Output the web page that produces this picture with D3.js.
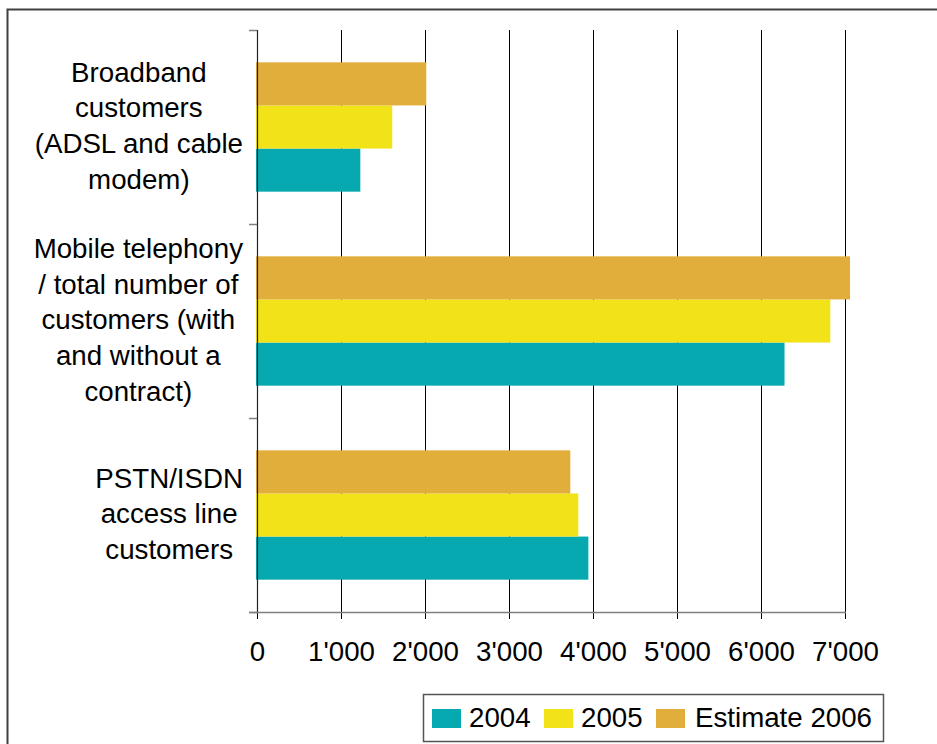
<!DOCTYPE html>
<html>
<head>
<meta charset="utf-8">
<script src="https://cdn.jsdelivr.net/npm/d3@7"></script>
<style>
  html, body { margin: 0; padding: 0; background: #fff; }
  svg { display: block; font-family: "Liberation Sans", Arial, sans-serif; }
</style>
</head>
<body>
<svg id="chart" width="937" height="744"></svg>
<script>
// Customer numbers (thousands) per service and year
const categories = [
  "Broadband customers (ADSL and cable modem)",
  "Mobile telephony / total number of customers (with and without a contract)",
  "PSTN/ISDN access line customers"
];
const categoryLines = [
  ["Broadband", "customers", "(ADSL and cable", "modem)"],
  ["Mobile telephony", "/ total number of", "customers (with", "and without a", "contract)"],
  ["PSTN/ISDN", "access line", "customers"]
];
const seriesNames = ["2004", "2005", "Estimate 2006"];
const values2004 = [1230, 6280, 3945];
const values2005 = [1610, 6825, 3825];
const values2006 = [2015, 7060, 3730];
const seriesColors = ["#07A9B1", "#F2E319", "#E1AE3B"];
const tickValues = [0, 1000, 2000, 3000, 4000, 5000, 6000, 7000];

const seriesValues = [values2004, values2005, values2006];

const svg = d3.select("#chart");
const FONT = 27.7;

// Outer frame
svg.append("rect")
  .attr("x", 7.5).attr("y", 9.5)
  .attr("width", 1000).attr("height", 1000)
  .attr("fill", "none").attr("stroke", "#404040").attr("stroke-width", 2);

const plot = { left: 257, right: 845, top: 30, bottom: 612 };

const x = d3.scaleLinear().domain([0, 7000]).range([plot.left, plot.right]);
const y = d3.scaleBand().domain(categories).range([plot.top, plot.bottom]).padding(0);
// Within each category: estimate on top, 2004 at the bottom
const ySub = d3.scaleBand()
  .domain(["Estimate 2006", "2005", "2004"])
  .range([0, y.bandwidth()])
  .paddingInner(0).paddingOuter(0.75);

const locale = d3.formatLocale({ decimal: ".", thousands: "'", grouping: [3], currency: ["", ""] });
const fmt = locale.format(",");

// Vertical gridlines
svg.append("g").selectAll("line")
  .data(tickValues.filter(v => v > 0))
  .join("line")
  .attr("x1", d => x(d) + 0.5).attr("x2", d => x(d) + 0.5)
  .attr("y1", plot.top).attr("y2", plot.bottom)
  .attr("stroke", "#000").attr("stroke-width", 1);

// Bars
const rows = [];
categories.forEach((c, i) => {
  seriesNames.forEach((s, j) => {
    rows.push({ cat: c, series: s, value: seriesValues[j][i], color: seriesColors[j] });
  });
});
svg.append("g").selectAll("rect")
  .data(rows)
  .join("rect")
  .attr("x", x(0) - 1)
  .attr("y", d => y(d.cat) + ySub(d.series))
  .attr("width", d => x(d.value) - x(0) + 1)
  .attr("height", ySub.bandwidth())
  .attr("fill", d => d.color);

// Y axis line and category boundary ticks
svg.append("line")
  .attr("x1", plot.left + 0.5).attr("x2", plot.left + 0.5)
  .attr("y1", plot.top).attr("y2", plot.bottom)
  .attr("stroke", "#222").attr("stroke-width", 1.2);
const bounds = categories.map(c => y(c)).concat([plot.bottom]);
svg.append("g").selectAll("line")
  .data(bounds)
  .join("line")
  .attr("x1", plot.left - 8).attr("x2", plot.left)
  .attr("y1", d => d + 0.5).attr("y2", d => d + 0.5)
  .attr("stroke", "#808080").attr("stroke-width", 1.5);

// X axis
const xAxis = d3.axisBottom(x).tickValues(tickValues).tickFormat(fmt).tickSize(7).tickPadding(22);
const gx = svg.append("g").attr("transform", `translate(0,${plot.bottom})`).call(xAxis);
gx.select(".domain").remove();
gx.selectAll(".tick line").attr("stroke", "#000");
gx.selectAll(".tick text")
  .attr("font-size", FONT)
  .attr("font-family", "Liberation Sans, Arial, sans-serif")
  .attr("fill", "#000");
svg.append("line")
  .attr("x1", plot.left - 8).attr("x2", plot.right + 1)
  .attr("y1", plot.bottom + 0.5).attr("y2", plot.bottom + 0.5)
  .attr("stroke", "#808080").attr("stroke-width", 1.5);

// Category labels, centered blocks whose widest line ends near the axis
const lineH = 35.7;
const labelRight = 243;
categories.forEach((c, i) => {
  const lines = categoryLines[i];
  const g = svg.append("g");
  const t = g.append("text")
    .attr("font-size", FONT)
    .attr("fill", "#000")
    .attr("text-anchor", "middle");
  const cy = y(c) + y.bandwidth() / 2;
  const firstBaseline = cy - (lines.length - 1) * lineH / 2 + FONT * 0.3;
  lines.forEach((ln, k) => {
    t.append("tspan").attr("x", 0).attr("y", firstBaseline + k * lineH).text(ln);
  });
  const maxW = d3.max(t.selectAll("tspan").nodes(), n => n.getComputedTextLength());
  t.selectAll("tspan").attr("x", labelRight - maxW / 2);
});

// Legend
const lg = svg.append("g");
lg.append("rect")
  .attr("x", 423.5).attr("y", 694.5).attr("width", 460).attr("height", 47)
  .attr("fill", "#fff").attr("stroke", "#555").attr("stroke-width", 1.5);
const legendItems = [
  { name: "2004", sx: 432, tx: 469 },
  { name: "2005", sx: 544, tx: 581 },
  { name: "Estimate 2006", sx: 656, tx: 695 }
];
legendItems.forEach((it, j) => {
  lg.append("rect")
    .attr("x", it.sx).attr("y", 709).attr("width", 29).attr("height", 19)
    .attr("fill", seriesColors[seriesNames.indexOf(it.name)]);
  lg.append("text")
    .attr("x", it.tx).attr("y", 727)
    .attr("font-size", FONT).attr("fill", "#000")
    .text(it.name);
});
</script>
</body>
</html>
